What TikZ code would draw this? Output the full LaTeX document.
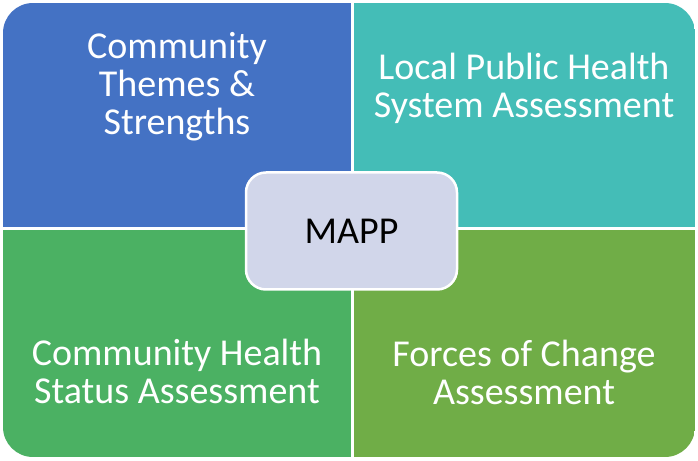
\documentclass[tikz,border=0pt]{standalone}
\usepackage{fontspec}
\setmainfont{Carlito}
\usepackage{xcolor}
\usepackage{tikz}

\definecolor{quadblue}{HTML}{4472C4}
\definecolor{quadteal}{HTML}{44BDB7}
\definecolor{quadgreen}{HTML}{4BB163}
\definecolor{quadlime}{HTML}{70AD47}
\definecolor{hubfill}{HTML}{D1D6EA}

\begin{document}
\begin{tikzpicture}[
  x=1pt, y=1pt,
  label/.style={text=white, align=center, font=\fontsize{38}{38}\selectfont},
  hub/.style={draw=white, line width=2.5pt, fill=hubfill, rounded corners=20pt,
    minimum width=211pt, minimum height=117pt, font=\fontsize{38}{38}\selectfont}
]
\useasboundingbox (0,0) rectangle (698,460);
% four quadrants inside one rounded frame
\begin{scope}
  \clip[rounded corners=30pt] (3,3) rectangle (695,457);
  \fill[quadblue] (3,231) rectangle (352,457);
  \fill[quadteal] (352,231) rectangle (695,457);
  \fill[quadgreen] (3,3) rectangle (352,231);
  \fill[quadlime] (352,3) rectangle (695,231);
\end{scope}
\draw[white, line width=3pt] (352,0) -- (352,460);
\draw[white, line width=3pt] (0,231) -- (698,231);
\node[label] (themes) at (177,373) {Community\\Themes \&\\Strengths};
\node[label] (system) at (524,372) {Local Public Health\\System Assessment};
\node[label] (status) at (177,89) {Community Health\\Status Assessment};
\node[label] (forces) at (524,88) {Forces of Change\\Assessment};
\node[hub] (mapp) at (351.5,229) {MAPP};
\end{tikzpicture}
\end{document}
